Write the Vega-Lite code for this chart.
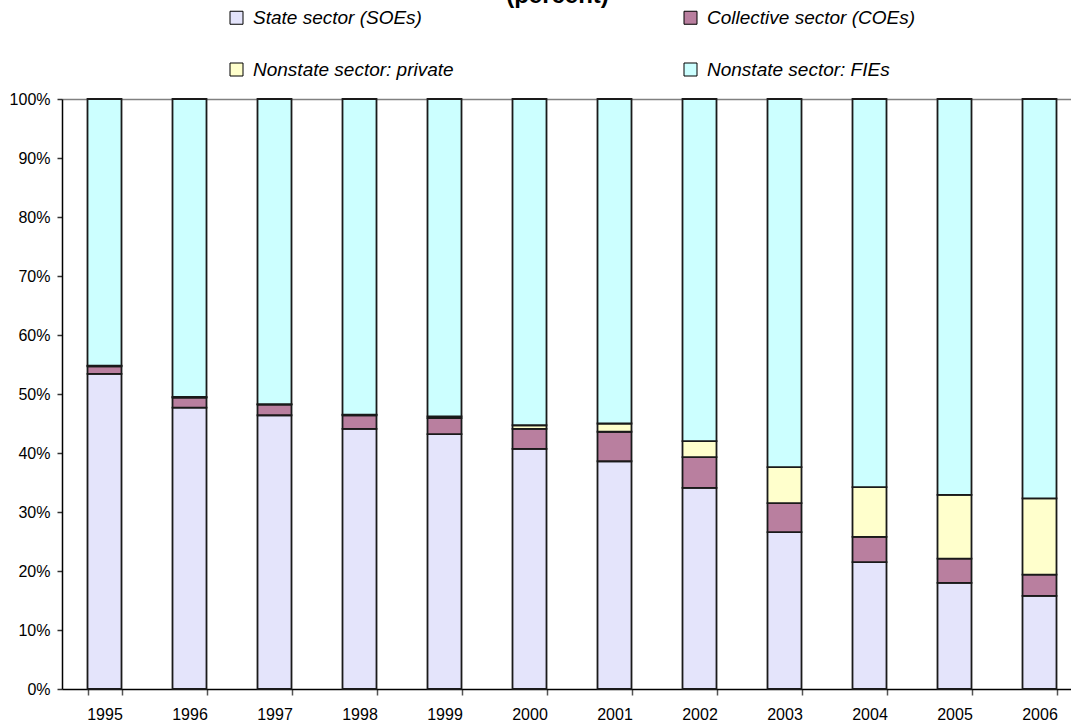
{
  "$schema": "https://vega.github.io/schema/vega-lite/v6.json",
  "width": 1009,
  "height": 590,
  "autosize": "none",
  "padding": {"left": 62, "top": 99, "right": 0, "bottom": 34},
  "background": "white",
  "config": {"view": {"stroke": null}, "font": "Liberation Sans"},
  "title": {
    "text": "(percent)",
    "font": "Liberation Sans",
    "fontSize": 24,
    "fontWeight": "bold",
    "color": "black",
    "anchor": "middle",
    "frame": "group",
    "dx": -9,
    "dy": 4
  },
  "datasets": {
    "sectors": [
      {"sector": "State sector (SOEs)", "rank": 1},
      {"sector": "Collective sector (COEs)", "rank": 2},
      {"sector": "Nonstate sector: private", "rank": 3},
      {"sector": "Nonstate sector: FIEs", "rank": 4}
    ],
    "shares": [
      {"year": "1995", "sector": "State sector (SOEs)", "share": 53.4},
      {"year": "1995", "sector": "Collective sector (COEs)", "share": 1.3},
      {"year": "1995", "sector": "Nonstate sector: private", "share": 0.1},
      {"year": "1995", "sector": "Nonstate sector: FIEs", "share": 45.2},
      {"year": "1996", "sector": "State sector (SOEs)", "share": 47.7},
      {"year": "1996", "sector": "Collective sector (COEs)", "share": 1.7},
      {"year": "1996", "sector": "Nonstate sector: private", "share": 0.1},
      {"year": "1996", "sector": "Nonstate sector: FIEs", "share": 50.5},
      {"year": "1997", "sector": "State sector (SOEs)", "share": 46.4},
      {"year": "1997", "sector": "Collective sector (COEs)", "share": 1.8},
      {"year": "1997", "sector": "Nonstate sector: private", "share": 0.1},
      {"year": "1997", "sector": "Nonstate sector: FIEs", "share": 51.7},
      {"year": "1998", "sector": "State sector (SOEs)", "share": 44.1},
      {"year": "1998", "sector": "Collective sector (COEs)", "share": 2.3},
      {"year": "1998", "sector": "Nonstate sector: private", "share": 0.1},
      {"year": "1998", "sector": "Nonstate sector: FIEs", "share": 53.5},
      {"year": "1999", "sector": "State sector (SOEs)", "share": 43.2},
      {"year": "1999", "sector": "Collective sector (COEs)", "share": 2.7},
      {"year": "1999", "sector": "Nonstate sector: private", "share": 0.3},
      {"year": "1999", "sector": "Nonstate sector: FIEs", "share": 53.8},
      {"year": "2000", "sector": "State sector (SOEs)", "share": 40.7},
      {"year": "2000", "sector": "Collective sector (COEs)", "share": 3.4},
      {"year": "2000", "sector": "Nonstate sector: private", "share": 0.6},
      {"year": "2000", "sector": "Nonstate sector: FIEs", "share": 55.3},
      {"year": "2001", "sector": "State sector (SOEs)", "share": 38.6},
      {"year": "2001", "sector": "Collective sector (COEs)", "share": 5.0},
      {"year": "2001", "sector": "Nonstate sector: private", "share": 1.4},
      {"year": "2001", "sector": "Nonstate sector: FIEs", "share": 55.0},
      {"year": "2002", "sector": "State sector (SOEs)", "share": 34.1},
      {"year": "2002", "sector": "Collective sector (COEs)", "share": 5.2},
      {"year": "2002", "sector": "Nonstate sector: private", "share": 2.7},
      {"year": "2002", "sector": "Nonstate sector: FIEs", "share": 58.0},
      {"year": "2003", "sector": "State sector (SOEs)", "share": 26.6},
      {"year": "2003", "sector": "Collective sector (COEs)", "share": 4.9},
      {"year": "2003", "sector": "Nonstate sector: private", "share": 6.1},
      {"year": "2003", "sector": "Nonstate sector: FIEs", "share": 62.4},
      {"year": "2004", "sector": "State sector (SOEs)", "share": 21.5},
      {"year": "2004", "sector": "Collective sector (COEs)", "share": 4.3},
      {"year": "2004", "sector": "Nonstate sector: private", "share": 8.4},
      {"year": "2004", "sector": "Nonstate sector: FIEs", "share": 65.8},
      {"year": "2005", "sector": "State sector (SOEs)", "share": 18.0},
      {"year": "2005", "sector": "Collective sector (COEs)", "share": 4.1},
      {"year": "2005", "sector": "Nonstate sector: private", "share": 10.8},
      {"year": "2005", "sector": "Nonstate sector: FIEs", "share": 67.1},
      {"year": "2006", "sector": "State sector (SOEs)", "share": 15.8},
      {"year": "2006", "sector": "Collective sector (COEs)", "share": 3.6},
      {"year": "2006", "sector": "Nonstate sector: private", "share": 12.9},
      {"year": "2006", "sector": "Nonstate sector: FIEs", "share": 67.7}
    ]
  },
  "data": {"name": "shares"},
  "transform": [
    {
      "lookup": "sector",
      "from": {"data": {"name": "sectors"}, "key": "sector", "fields": ["rank"]}
    }
  ],
  "mark": {"type": "bar", "stroke": "#1a1a1a", "strokeWidth": 1.8},
  "encoding": {
    "x": {
      "field": "year",
      "type": "ordinal",
      "scale": {"range": [0, 1020], "paddingInner": 0.6, "paddingOuter": 0.3},
      "axis": {
        "title": null,
        "labelAngle": 0,
        "tickBand": "extent",
        "tickSize": 6,
        "labelPadding": 11,
        "labelFont": "Liberation Sans",
        "labelFontSize": 16,
        "labelColor": "black",
        "domainColor": "black",
        "domainWidth": 1.5,
        "tickColor": "#555555",
        "tickWidth": 1.5
      }
    },
    "y": {
      "field": "share",
      "type": "quantitative",
      "stack": "normalize",
      "axis": {
        "title": null,
        "values": [0, 0.1, 0.2, 0.3, 0.4, 0.5, 0.6, 0.7, 0.8, 0.9, 1],
        "format": ".0%",
        "labelFont": "Liberation Sans",
        "labelFontSize": 16,
        "labelColor": "black",
        "labelPadding": 7,
        "tickSize": 5,
        "tickColor": "#333333",
        "tickWidth": 1.5,
        "domainColor": "black",
        "domainWidth": 1.5,
        "grid": true,
        "gridColor": "#808080",
        "gridWidth": 1.5,
        "gridOpacity": {"condition": {"test": "datum.value >= 1", "value": 1}, "value": 0}
      }
    },
    "order": {"field": "rank", "type": "quantitative", "sort": "ascending"},
    "color": {
      "field": "sector",
      "type": "nominal",
      "scale": {
        "domain": ["State sector (SOEs)", "Nonstate sector: private", "Collective sector (COEs)", "Nonstate sector: FIEs"],
        "range": ["#e4e4fb", "#ffffcc", "#b97f9f", "#ccffff"]
      },
      "legend": {
        "title": null,
        "orient": "none",
        "legendX": 165,
        "legendY": -91,
        "columns": 2,
        "symbolType": "square",
        "symbolSize": 169,
        "symbolStrokeColor": "black",
        "symbolStrokeWidth": 1,
        "symbolOpacity": 1,
        "labelFont": "Liberation Sans",
        "labelFontStyle": "italic",
        "labelFontSize": 19,
        "labelColor": "black",
        "labelOffset": 7,
        "labelLimit": 400,
        "rowPadding": 32,
        "columnPadding": 227
      }
    }
  }
}
